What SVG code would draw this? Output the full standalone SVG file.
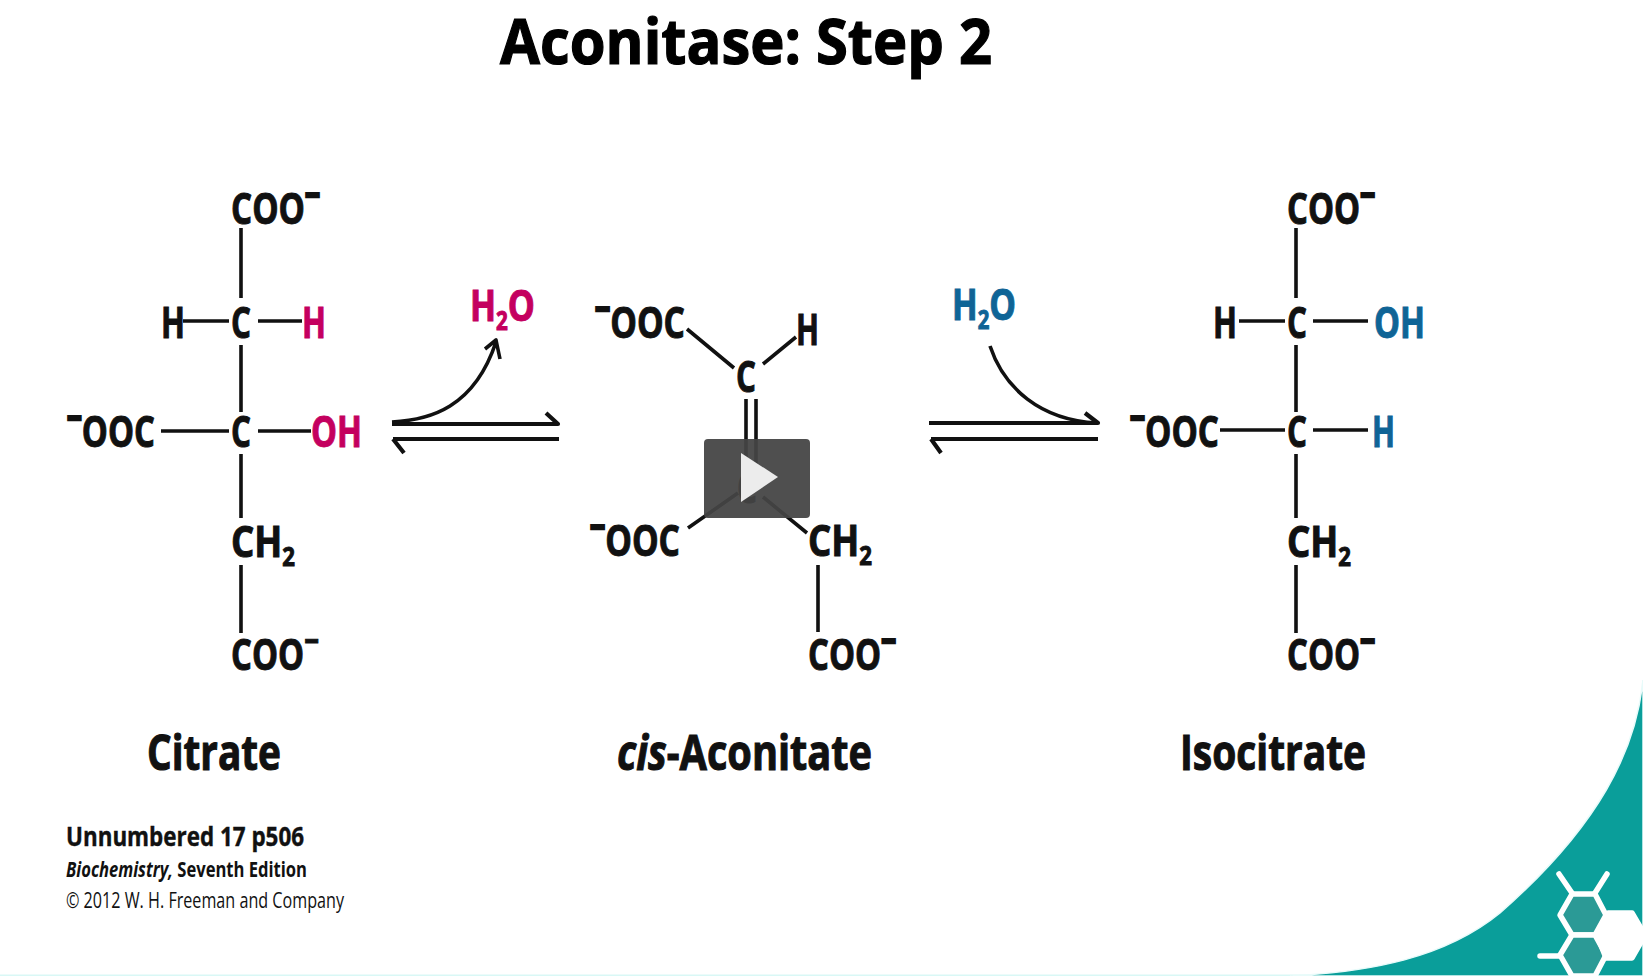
<svg xmlns="http://www.w3.org/2000/svg" width="1643" height="976" viewBox="0 0 1643 976">
<style>
.a{font-family:"Open Sans","Noto Sans","Liberation Sans",sans-serif;font-weight:700;font-size:43px;fill:#111;stroke:#111;stroke-width:1px}
.p{fill:#c4005f;stroke:#c4005f}
.b{fill:#0f6496;stroke:#0f6496}
.n{font-family:"Open Sans","Noto Sans","Liberation Sans",sans-serif;font-weight:700;font-size:49px;fill:#111;stroke:#111;stroke-width:1.1px}
.c{font-family:"Open Sans","Noto Sans","Liberation Sans",sans-serif;fill:#111}
.l{stroke:#111;stroke-width:3.6;fill:none;stroke-linejoin:round}
.e{stroke:#111;stroke-width:4.2;fill:none;stroke-linejoin:round}
.s{font-size:26px}
.m{font-size:34px;stroke-width:2.6px}
.t{font-size:34px}
</style>
<rect width="1643" height="976" fill="#fff"/>
<rect y="974.5" width="1643" height="1.5" fill="#d9f8f6"/>
<g id="corner">
<path d="M1643 680C1636 750 1600 825 1500 913C1445 958 1370 972 1290 976L1643 976Z" fill="#0a9e9a" stroke="#e8fbfa" stroke-width="1.5"/>
<g stroke="#fff" stroke-width="5.5" stroke-linecap="round" stroke-linejoin="round">
<path d="M1572 893L1559 874M1595 893L1607 874M1540 956L1560 956" fill="none"/>
<path d="M1560 915L1572 894L1595 894L1606 915L1595 935L1572 935Z" fill="#2b9a96"/>
<path d="M1560 955L1572 935L1595 935L1606 955L1595 976L1572 976Z" fill="#2b9a96"/>
<path d="M1597 935L1608 913L1632 913L1645 935L1632 958L1606 958Z" fill="#fff"/>
</g>
</g>
<text id="title" x="500" y="64" textLength="492" lengthAdjust="spacingAndGlyphs" font-family="Open Sans,Noto Sans,sans-serif" font-weight="700" font-size="62" fill="#000" stroke="#000" stroke-width="1.2">Aconitase: Step 2</text>
<g id="connectors">
<path class="l" d="M241 228V298M241 345V412M241 454V518M241 565V633M183 321H229M258 321H302M161 431H229M258 431H311"/>
<path class="l" d="M687 329L734 368M763 364L796 337M746 399V480M756 399V480M688 528L738 493M763 497L807 533M818 565V632"/>
<path class="l" d="M1296 228V298M1296 345V412M1296 454V518M1296 565V633M1239 321H1285M1313 321H1368M1220 430H1285M1313 430H1368"/>
<g id="arrow-left">
<path class="e" d="M392 424H558L546 413M393 439H559M393 439L404 453"/>
<path class="l" d="M392 422C430 420 474 408 496 342M485 349L496 340L500 359"/>
</g>
<g id="arrow-right">
<path class="e" d="M929 423H1098L1085 413M931 439H1098M931 439L941 453"/>
<path class="l" d="M990 346C1004 388 1040 420 1097 423"/>
</g>
</g>
<g id="citrate">
<text class="a" x="231" y="224" textLength="89" lengthAdjust="spacingAndGlyphs">COO<tspan dy="-17" class="m">−</tspan></text>
<text class="a" x="161" y="338" textLength="24" lengthAdjust="spacingAndGlyphs">H</text>
<text class="a" x="231" y="338" textLength="20" lengthAdjust="spacingAndGlyphs">C</text>
<text class="a p" x="302" y="338" textLength="24" lengthAdjust="spacingAndGlyphs">H</text>
<text class="a" x="67" y="447" textLength="88" lengthAdjust="spacingAndGlyphs"><tspan dy="-17" class="m">−</tspan><tspan dy="17">OOC</tspan></text>
<text class="a" x="231" y="447" textLength="20" lengthAdjust="spacingAndGlyphs">C</text>
<text class="a p" x="311" y="447" textLength="51" lengthAdjust="spacingAndGlyphs">OH</text>
<text class="a" x="231" y="557" textLength="64" lengthAdjust="spacingAndGlyphs">CH<tspan dy="9" class="s">2</tspan></text>
<text class="a" x="231" y="670" textLength="88" lengthAdjust="spacingAndGlyphs">COO<tspan dy="-17" class="t">−</tspan></text>
<text class="a p" x="470" y="321" textLength="65" lengthAdjust="spacingAndGlyphs">H<tspan dy="9" class="s">2</tspan><tspan dy="-9">O</tspan></text>
<text class="n" x="147" y="770" textLength="134" lengthAdjust="spacingAndGlyphs">Citrate</text>
</g>
<g id="cis-aconitate">
<text class="a" x="595" y="338" textLength="90" lengthAdjust="spacingAndGlyphs"><tspan dy="-17" class="m">−</tspan><tspan dy="17">OOC</tspan></text>
<text class="a" x="796" y="345" textLength="23" lengthAdjust="spacingAndGlyphs">H</text>
<text class="a" x="736" y="392" textLength="20" lengthAdjust="spacingAndGlyphs">C</text>
<text class="a" x="737" y="503" textLength="20" lengthAdjust="spacingAndGlyphs">C</text>
<text class="a" x="590" y="556" textLength="90" lengthAdjust="spacingAndGlyphs"><tspan dy="-17" class="m">−</tspan><tspan dy="17">OOC</tspan></text>
<text class="a" x="808" y="556" textLength="64" lengthAdjust="spacingAndGlyphs">CH<tspan dy="9" class="s">2</tspan></text>
<text class="a" x="808" y="670" textLength="88" lengthAdjust="spacingAndGlyphs">COO<tspan dy="-17" class="m">−</tspan></text>
<text class="a b" x="952" y="320" textLength="64" lengthAdjust="spacingAndGlyphs">H<tspan dy="9" class="s">2</tspan><tspan dy="-9">O</tspan></text>
<text class="n" x="617" y="770" textLength="255" lengthAdjust="spacingAndGlyphs"><tspan font-style="italic">cis</tspan>-Aconitate</text>
</g>
<g id="isocitrate">
<text class="a" x="1287" y="224" textLength="88" lengthAdjust="spacingAndGlyphs">COO<tspan dy="-17" class="m">−</tspan></text>
<text class="a" x="1213" y="338" textLength="24" lengthAdjust="spacingAndGlyphs">H</text>
<text class="a" x="1287" y="338" textLength="20" lengthAdjust="spacingAndGlyphs">C</text>
<text class="a b" x="1374" y="338" textLength="51" lengthAdjust="spacingAndGlyphs">OH</text>
<text class="a" x="1130" y="447" textLength="89" lengthAdjust="spacingAndGlyphs"><tspan dy="-17" class="m">−</tspan><tspan dy="17">OOC</tspan></text>
<text class="a" x="1287" y="447" textLength="20" lengthAdjust="spacingAndGlyphs">C</text>
<text class="a b" x="1372" y="447" textLength="23" lengthAdjust="spacingAndGlyphs">H</text>
<text class="a" x="1287" y="557" textLength="64" lengthAdjust="spacingAndGlyphs">CH<tspan dy="9" class="s">2</tspan></text>
<text class="a" x="1287" y="670" textLength="88" lengthAdjust="spacingAndGlyphs">COO<tspan dy="-17" class="m">−</tspan></text>
<text class="n" x="1180" y="770" textLength="186" lengthAdjust="spacingAndGlyphs">Isocitrate</text>
</g>
<g id="caption">
<text class="c" x="66" y="846" font-size="27" font-weight="700" stroke="#111" stroke-width=".4" textLength="238" lengthAdjust="spacingAndGlyphs">Unnumbered 17 p506</text>
<text class="c" x="66" y="877" font-size="22" font-weight="700" textLength="241" lengthAdjust="spacingAndGlyphs"><tspan font-style="italic">Biochemistry,</tspan> Seventh Edition</text>
<text class="c" x="66" y="908" font-size="22" textLength="278" lengthAdjust="spacingAndGlyphs">© 2012 W. H. Freeman and Company</text>
</g>
<g id="play">
<rect x="704" y="439" width="106" height="79" rx="4" fill="#444" fill-opacity=".94"/>
<path d="M741 453L778 477L741 502Z" fill="#ececec"/>
</g>
</svg>
